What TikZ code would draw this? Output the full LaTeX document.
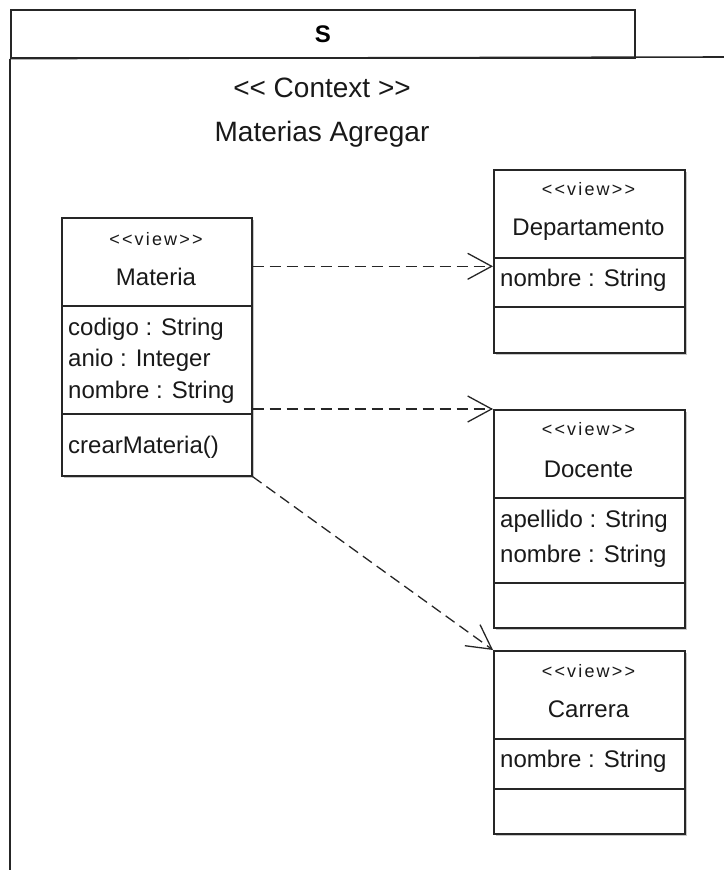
\documentclass[tikz,border=0pt]{standalone}
\usepackage{fontspec}
\setmainfont[Ligatures=TeXOff]{Liberation Sans}
\newfontfamily\stereofont[LetterSpace=12,Ligatures=TeXOff]{Liberation Sans}
\usetikzlibrary{arrows.meta,shadows}

\tikzset{
  ink/.style={draw=black!85, line width=1.6pt},
  frameline/.style={ink},
  classbox/.style={ink, fill=white, anchor=north west, inner sep=0pt,
    drop shadow={shadow xshift=2pt, shadow yshift=-2pt, fill=black, opacity=0.22}},
  stereo/.style={font=\stereofont\fontsize{18}{18}\selectfont, anchor=base, inner sep=0pt, text=black!90},
  cname/.style={font=\fontsize{24}{24}\selectfont, anchor=base, inner sep=0pt, text=black!90},
  attr/.style={font=\fontsize{24}{24}\selectfont, anchor=base west, inner sep=0pt, text=black!90},
  ctxtext/.style={font=\fontsize{28}{28}\selectfont, anchor=base, inner sep=0pt, text=black!90},
  divider/.style={ink},
  dep/.style={draw=black!85, line width=1.3pt, dash pattern=on 11pt off 6pt,
    -{Straight Barb[length=24pt, width=26pt, line width=1.3pt]}}
}

\begin{document}
\begin{tikzpicture}[x=1pt, y=-1pt]
\useasboundingbox (0,0) rectangle (723,870);

% package frame with its name tab
\node[frameline, anchor=north west, minimum width=624pt, minimum height=48pt, inner sep=0pt,
      font=\bfseries\fontsize{24}{24}\selectfont] (tab) at (10,9) {S};
\draw[frameline] (tab.south west) -- (10,872);
\draw[frameline] (tab.south west) -- (725,57);

\node[ctxtext] (ctx) at (322,97) {<< Context >>};
\node[ctxtext] (ctxname) at (322,141) {Materias Agregar};

% Materia
\node[classbox, minimum width=190pt, minimum height=258pt] (materia) at (61,217) {};
\draw[divider] (materia.west |- 0,306) -- (materia.east |- 0,306);
\draw[divider] (materia.west |- 0,414) -- (materia.east |- 0,414);
\node[stereo] (materiaS) at (156,245) {<<view>>};
\node[cname] (materiaN) at (156,285) {Materia};
\node[attr] (materiaA1) at (68,335) {codigo : String};
\node[attr] (materiaA2) at (68,366) {anio : Integer};
\node[attr] (materiaA3) at (68,398) {nombre : String};
\node[attr] (materiaM1) at (68,453) {crearMateria()};

% Departamento
\node[classbox, minimum width=191pt, minimum height=183pt] (departamento) at (493,169) {};
\draw[divider] (departamento.west |- 0,258) -- (departamento.east |- 0,258);
\draw[divider] (departamento.west |- 0,307) -- (departamento.east |- 0,307);
\node[stereo] (departamentoS) at (588.5,195) {<<view>>};
\node[cname] (departamentoN) at (588.5,235) {Departamento};
\node[attr] (departamentoA1) at (500,286) {nombre : String};

% Docente
\node[classbox, minimum width=191pt, minimum height=218pt] (docente) at (493,409) {};
\draw[divider] (docente.west |- 0,498) -- (docente.east |- 0,498);
\draw[divider] (docente.west |- 0,583) -- (docente.east |- 0,583);
\node[stereo] (docenteS) at (588.5,435) {<<view>>};
\node[cname] (docenteN) at (588.5,477) {Docente};
\node[attr] (docenteA1) at (500,527) {apellido : String};
\node[attr] (docenteA2) at (500,562) {nombre : String};

% Carrera
\node[classbox, minimum width=191pt, minimum height=183pt] (carrera) at (493,650) {};
\draw[divider] (carrera.west |- 0,739) -- (carrera.east |- 0,739);
\draw[divider] (carrera.west |- 0,789) -- (carrera.east |- 0,789);
\node[stereo] (carreraS) at (588.5,677) {<<view>>};
\node[cname] (carreraN) at (588.5,717) {Carrera};
\node[attr] (carreraA1) at (500,767) {nombre : String};

% dependencies
\coordinate (depIn) at ([yshift=-5pt]departamento.west);
\draw[dep] (materia.east |- depIn) -- (depIn);
\draw[dep] (materia.east |- docente.north west) -- (docente.north west);
\draw[dep] (materia.south east) -- (carrera.north west);
\end{tikzpicture}
\end{document}
